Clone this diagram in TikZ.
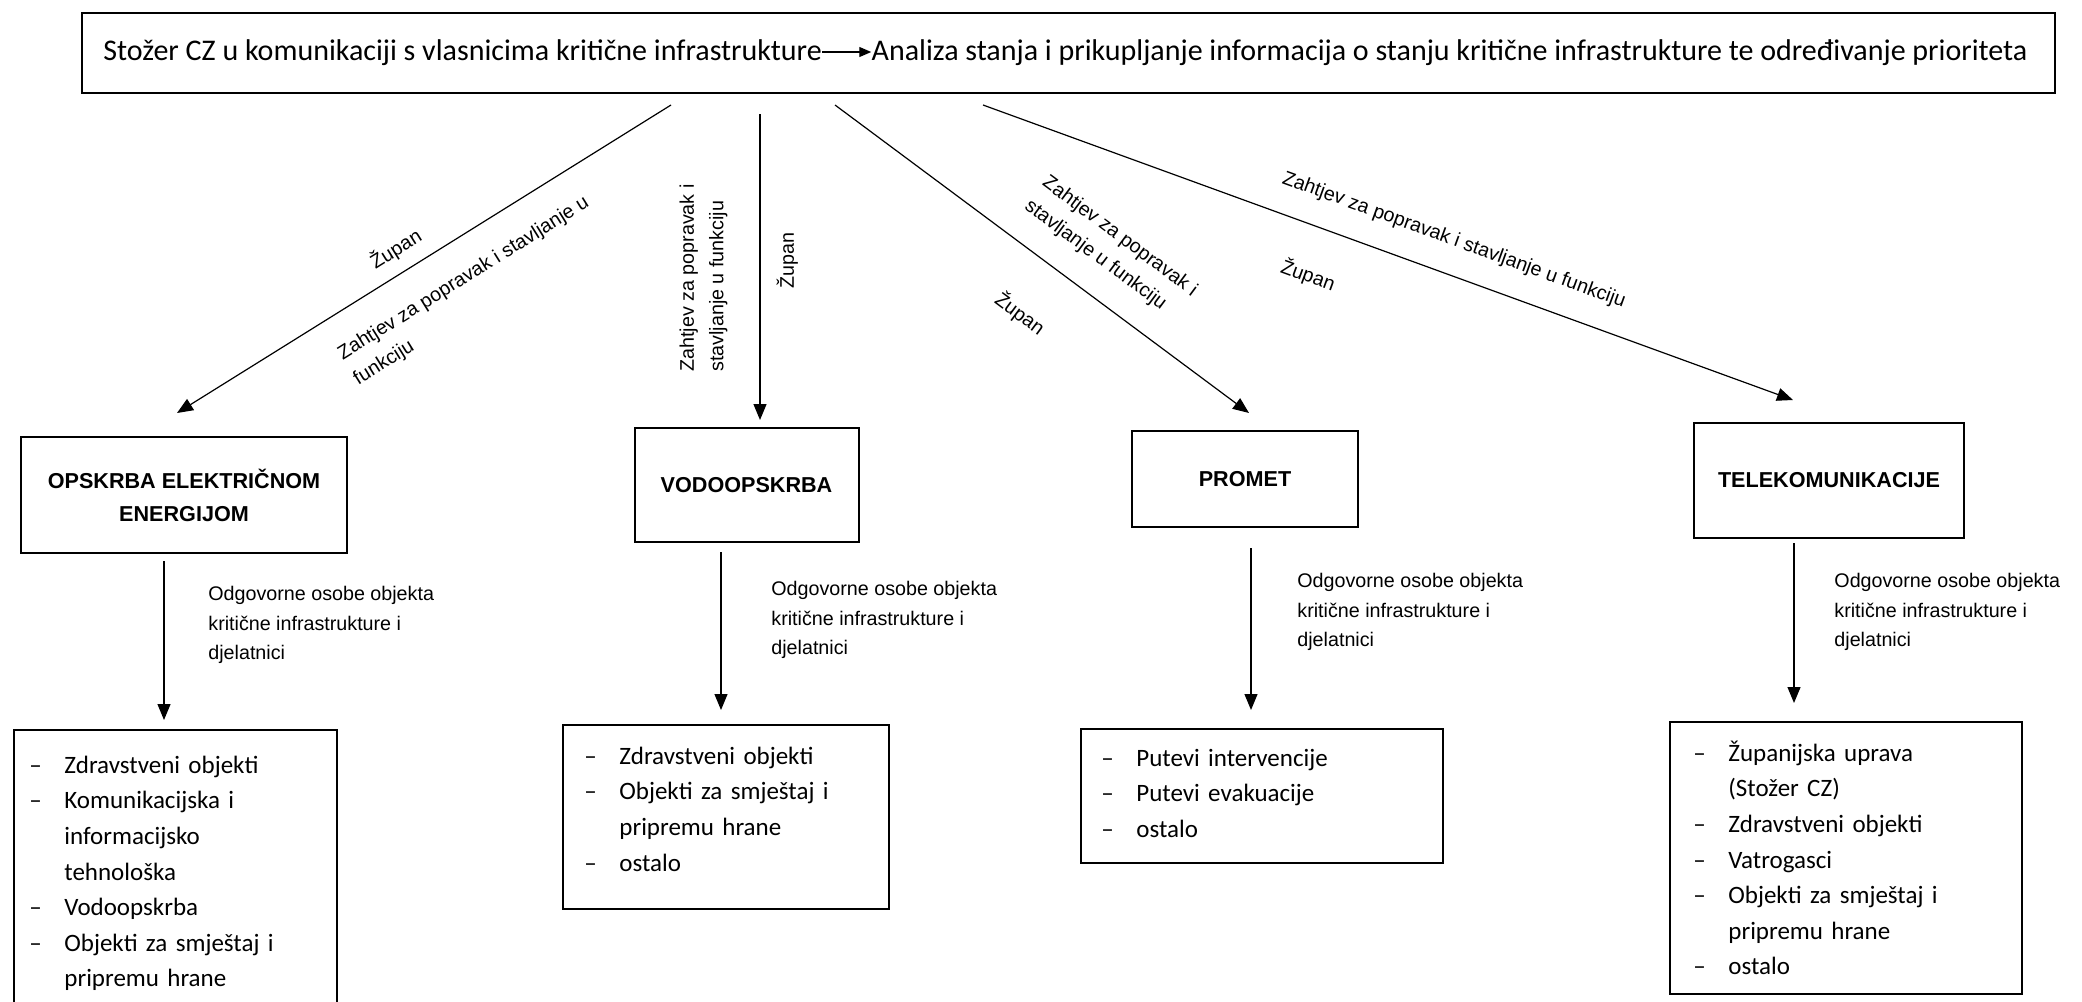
\documentclass[tikz,border=0pt]{standalone}
\usepackage{fontspec}
\setmainfont{Carlito}
\newfontfamily\arialf{Liberation Sans}
\usetikzlibrary{arrows.meta}
\newcommand{\listitm}[1]{\noindent\hangindent=17.5pt\hangafter=1\makebox[17.5pt][l]{–}\strut#1\par}
\begin{document}
\begin{tikzpicture}[x=0.5pt,y=-0.5pt,
  box/.style={draw, line width=1pt, inner sep=0pt},
  hdr/.style={box, font=\arialf\bfseries\fontsize{10.8}{16.5}\selectfont, align=center},
  conn/.style={line width=0.6pt, -{Triangle[length=8pt,width=6.5pt]}},
  rconn/.style={line width=0.6pt, {Triangle[length=8pt,width=6.5pt]}-},
  lbl/.style={font=\arialf\fontsize{9.85}{14.75}\selectfont, align=left, inner sep=0pt},
  lst/.style={font=\fontsize{12.5}{17.8}\selectfont, text width=150pt, align=left, inner sep=0pt, anchor=north west},
  toptxt/.style={font=\fontsize{15}{18}\selectfont, inner sep=0pt, anchor=base west},
]
\useasboundingbox (0,0) rectangle (2082,1001);
\fill[white] (0,0) rectangle (2082,1001);
\clip (0,0) rectangle (2082,1001);

% top box
\node[box, minimum width=986.5pt, minimum height=40pt] (top) at (1068.5,53) {};
\node[toptxt] (t1) at (103,60) {Stožer CZ u komunikaciji s vlasnicima kritične infrastrukture};
\node[toptxt] (t2) at ([xshift=24.5pt]t1.base east) {Analiza stanja i prikupljanje informacija o stanju kritične infrastrukture te određivanje prioriteta};
\draw[line width=0.6pt, -{Triangle[length=6pt,width=5pt]}] ([yshift=4pt]t1.base east) -- ([yshift=4pt]t2.base west);

% header boxes
\node[hdr, minimum width=163pt, minimum height=58pt] (opskrba) at (184,495) {OPSKRBA ELEKTRIČNOM\\ENERGIJOM};
\node[hdr, minimum width=112pt, minimum height=57pt] (vodo) at (746.5,485) {VODOOPSKRBA};
\node[hdr, minimum width=113pt, minimum height=48pt] (promet) at (1245,479) {PROMET};
\node[hdr, minimum width=135pt, minimum height=57.5pt] (tele) at (1829,480.5) {TELEKOMUNIKACIJE};

% connector ends
\coordinate (s1) at (671,105); \coordinate (e1) at (177,413);
\coordinate (s2) at (760,114); \coordinate (e2) at (760,420);
\coordinate (s3) at (835,105); \coordinate (e3) at (1249,413);
\coordinate (s4) at (983,105); \coordinate (e4) at (1793,400);

\draw[rconn] (e1) -- node[lbl, sloped, pos=0.468, above=6pt] {Župan}
  node[lbl, sloped, pos=0.54, below=14pt] {Zahtjev za popravak i stavljanje u\\funkciju} (s1);
\draw[rconn] (e2) -- node[lbl, sloped, pos=0.464, above=16pt] {Zahtjev za popravak i\\stavljanje u funkciju}
  node[lbl, sloped, pos=0.52, below=8pt] {Župan} (s2);
\draw[conn] (s3) -- node[lbl, sloped, pos=0.595, above=12.5pt] {Zahtjev za popravak i\\stavljanje u funkciju}
  node[lbl, sloped, pos=0.529, below=23pt] {Župan} (e3);
\draw[conn] (s4) -- node[lbl, sloped, pos=0.567, above=12pt] {Zahtjev za popravak i stavljanje u funkciju}
  node[lbl, sloped, pos=0.422, below=18.8pt] {Župan} (e4);

% list boxes
\node[box, anchor=north west, minimum width=161.5pt, minimum height=140.5pt] (b1) at (13,729) {};
\node[box, anchor=north west, minimum width=163pt, minimum height=92pt] (b2) at (562,724) {};
\node[box, anchor=north west, minimum width=181pt, minimum height=67pt] (b3) at (1080,728) {};
\node[box, anchor=north west, minimum width=176pt, minimum height=136pt] (b4) at (1669,721) {};

\node[lst] (b1t) at (29,748) {\listitm{Zdravstveni objekti}\listitm{Komunikacijska i\newline informacijsko\newline tehnološka}\listitm{Vodoopskrba}\listitm{Objekti za smještaj i\newline pripremu hrane}};
\node[lst] (b2t) at (584,739) {\listitm{Zdravstveni objekti}\listitm{Objekti za smještaj i\newline pripremu hrane}\listitm{ostalo}};
\node[lst] (b3t) at (1101,741) {\listitm{Putevi intervencije}\listitm{Putevi evakuacije}\listitm{ostalo}};
\node[lst] (b4t) at (1693,736) {\listitm{Županijska uprava\newline (Stožer CZ)}\listitm{Zdravstveni objekti}\listitm{Vatrogasci}\listitm{Objekti za smještaj i\newline pripremu hrane}\listitm{ostalo}};

% second level connectors
\draw[conn] ([shift={(-20,7)}]opskrba.south) -- ([shift={(151,-9)}]b1.north west);
\draw[conn] ([shift={(-25.5,9)}]vodo.south) -- ([shift={(159,-14)}]b2.north west);
\draw[conn] ([shift={(6,20)}]promet.south) -- ([shift={(171,-18)}]b3.north west);
\draw[conn] ([shift={(-35,4)}]tele.south) -- ([shift={(125,-18)}]b4.north west);

\node[lbl, anchor=north west] (l1) at (208,586) {Odgovorne osobe objekta\\kritične infrastrukture i\\djelatnici};
\node[lbl, anchor=north west] (l2) at (771,581) {Odgovorne osobe objekta\\kritične infrastrukture i\\djelatnici};
\node[lbl, anchor=north west] (l3) at (1297,573) {Odgovorne osobe objekta\\kritične infrastrukture i\\djelatnici};
\node[lbl, anchor=north west] (l4) at (1834,573) {Odgovorne osobe objekta\\kritične infrastrukture i\\djelatnici};
\end{tikzpicture}
\end{document}
